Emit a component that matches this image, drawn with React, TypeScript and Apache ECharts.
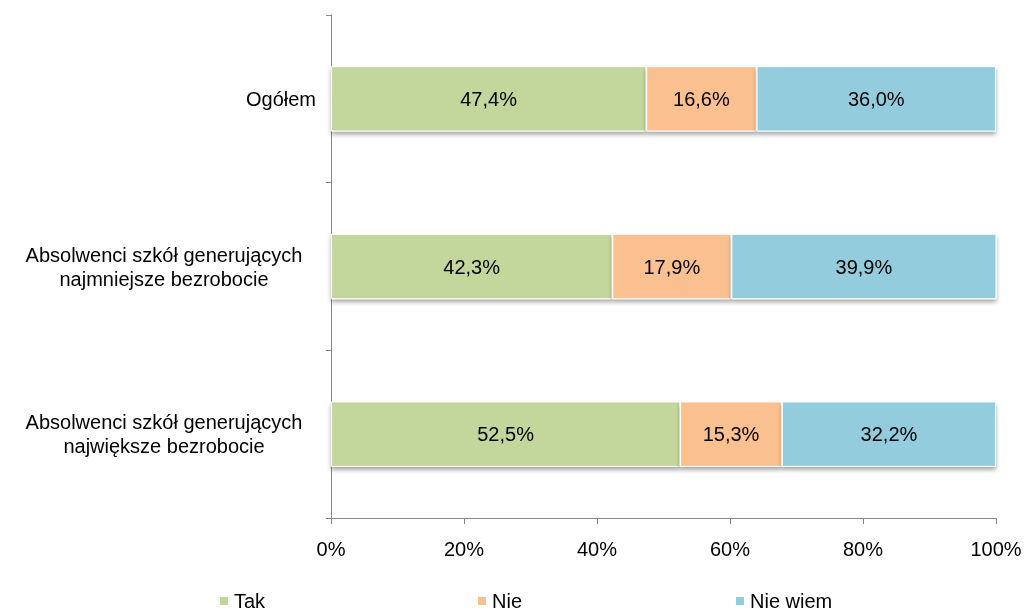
import React, { useEffect, useRef } from "react";
import * as echarts from "echarts";

const categories = [
  "Ogółem",
  "Absolwenci szkół generujących\nnajmniejsze bezrobocie",
  "Absolwenci szkół generujących\nnajwiększe bezrobocie",
];
const seriesNames = ["Tak", "Nie", "Nie wiem"];
const tak = [47.4, 42.3, 52.5];
const nie = [16.6, 17.9, 15.3];
const nieWiem = [36.0, 39.9, 32.2];
const colors = ["#C3D69B", "#FAC090", "#93CDDD"];

const FONT = "'Liberation Sans', Arial, sans-serif";

export default function App() {
  const ref = useRef<HTMLDivElement>(null);
  useEffect(() => {
    if (!ref.current) return;
    const chart = echarts.init(ref.current, null, { renderer: "svg" });
    const values = [tak, nie, nieWiem];
    chart.setOption({
      animation: false,
      textStyle: { fontFamily: FONT },
      grid: { left: 331, right: 30, top: 15, bottom: 94, containLabel: false },
      legend: {
        left: 218,
        top: 591,
        padding: 0,
        itemWidth: 10,
        itemHeight: 10,
        itemGap: 0,
        icon: "rect",
        data: seriesNames,
        formatter: (name: string) => `{a|${name}}`,
        textStyle: {
          fontSize: 20,
          color: "#000",
          fontFamily: FONT,
          rich: {
            a: { width: 242, fontSize: 20, lineHeight: 20, color: "#000", fontFamily: FONT, align: "left" },
          },
        },
      },
      xAxis: {
        type: "value",
        min: 0,
        max: 100,
        interval: 20,
        axisLine: { show: true, lineStyle: { color: "#868686" } },
        axisTick: { show: true, length: 6, lineStyle: { color: "#868686" } },
        splitLine: { show: false },
        axisLabel: { formatter: "{value}%", fontSize: 20, color: "#000", margin: 21, fontFamily: FONT },
      },
      yAxis: {
        type: "category",
        inverse: true,
        data: categories,
        axisLine: { show: true, lineStyle: { color: "#868686" } },
        axisTick: { show: true, length: 5, lineStyle: { color: "#868686" } },
        axisLabel: {
          margin: 15,
          fontSize: 20,
          color: "#000",
          fontFamily: FONT,
          lineHeight: 24,
          formatter: (v: string) =>
            v.includes("\n")
              ? v.split("\n").map((l) => `{c|${l}}`).join("\n")
              : v,
          rich: {
            c: { width: 304, align: "center", fontSize: 20, lineHeight: 24, color: "#000", fontFamily: FONT },
          },
        },
      },
      series: seriesNames.map((name, i) => ({
        name,
        type: "bar",
        stack: "total",
        barWidth: "39%",
        data: values[i],
        itemStyle: {
          color: colors[i],
          borderColor: "#ffffff",
          borderWidth: 1,
          shadowColor: "rgba(0,0,0,0.35)",
          shadowBlur: 4,
          shadowOffsetY: 3,
        },
        label: {
          show: true,
          position: "inside",
          fontSize: 20,
          color: "#000",
          fontFamily: FONT,
          formatter: (p: any) => `${Number(p.value).toFixed(1).replace(".", ",")}%`,
        },
      })),
    });
    return () => chart.dispose();
  }, []);
  return (
    <div
      ref={ref}
      style={{ position: "fixed", left: 0, top: 0, width: 1026, height: 612 }}
    />
  );
}
